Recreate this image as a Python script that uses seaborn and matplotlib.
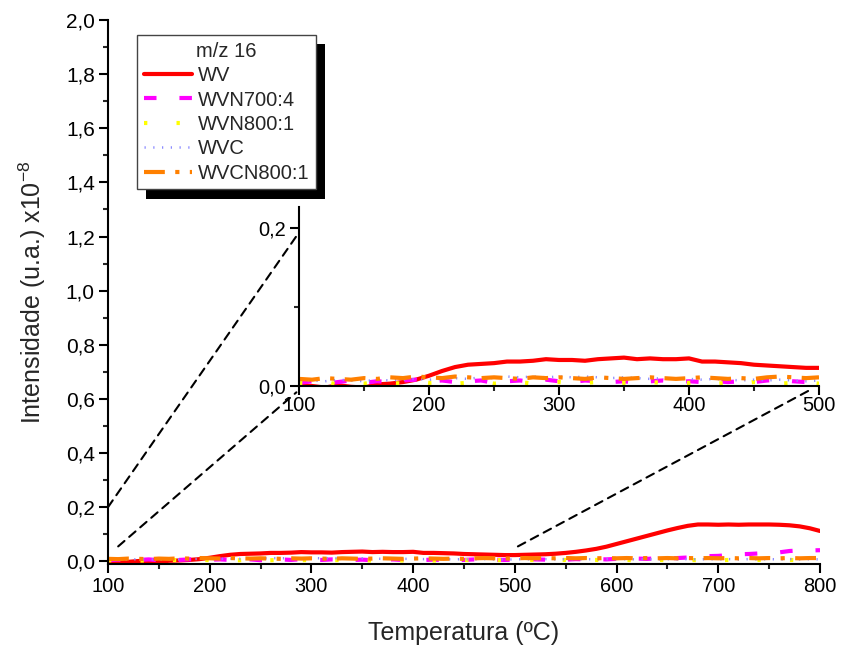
import numpy as np
import pandas as pd
import seaborn as sns
import matplotlib
matplotlib.use("Agg")
import matplotlib.pyplot as plt
from matplotlib.ticker import MultipleLocator, FuncFormatter
from matplotlib.patches import ConnectionPatch
import matplotlib.patheffects as pe

# ---------------- data ----------------
temperature = list(range(100, 801, 10))

wv = [0.001, 0.000, -0.002, 0.001, -0.001, -0.002, 0.002, 0.003, 0.005, 0.008,
      0.013, 0.019, 0.024, 0.027, 0.028, 0.029, 0.031, 0.031, 0.032, 0.034,
      0.033, 0.033, 0.032, 0.034, 0.035, 0.036, 0.034, 0.035, 0.034, 0.034,
      0.035, 0.031, 0.031, 0.030, 0.029, 0.027, 0.026, 0.025, 0.024, 0.023,
      0.023, 0.024, 0.025, 0.026, 0.028, 0.031, 0.035, 0.040, 0.046, 0.054,
      0.064, 0.074, 0.084, 0.094, 0.104, 0.114, 0.123, 0.131, 0.136, 0.136,
      0.135, 0.136, 0.135, 0.136, 0.136, 0.136, 0.135, 0.133, 0.129, 0.122,
      0.112]

wvn700_4 = [0.004, 0.006, 0.003, 0.005, 0.007, 0.004, 0.006, 0.005, 0.007, 0.008,
            0.006, 0.007, 0.005, 0.006, 0.007, 0.004, 0.006, 0.007, 0.005, 0.008,
            0.006, 0.005, 0.007, 0.006, 0.005, 0.006, 0.004, 0.006, 0.007, 0.005,
            0.006, 0.005, 0.006, 0.005, 0.006, 0.005, 0.007, 0.008, 0.006, 0.005,
            0.006, 0.006, 0.007, 0.006, 0.007, 0.006, 0.008, 0.007, 0.008, 0.007,
            0.009, 0.008, 0.010, 0.009, 0.011, 0.010, 0.012, 0.014, 0.017, 0.019,
            0.020, 0.023, 0.026, 0.027, 0.029, 0.030, 0.033, 0.038, 0.040, 0.040,
            0.041]

wvn800_1 = [0.004, 0.003, 0.005, 0.002, 0.004, 0.003, 0.005, 0.004, 0.003, 0.006,
            0.004, 0.005, 0.003, 0.004, 0.006, 0.003, 0.004, 0.005, 0.003, 0.004,
            0.005, 0.003, 0.004, 0.005, 0.003, 0.004, 0.003, 0.005, 0.004, 0.003,
            0.004, 0.005, 0.003, 0.004, 0.003, 0.005, 0.004, 0.003, 0.004, 0.005,
            0.003, 0.004, 0.005, 0.003, 0.004, 0.005, 0.003, 0.004, 0.005, 0.003,
            0.004, 0.005, 0.003, 0.004, 0.005, 0.004, 0.003, 0.005, 0.004, 0.003,
            0.004, 0.005, 0.003, 0.004, 0.005, 0.004, 0.003, 0.005, 0.004, 0.005,
            0.004]

wvc = [0.006, 0.007, 0.006, 0.008, 0.007, 0.006, 0.008, 0.007, 0.008, 0.009,
       0.008, 0.009, 0.010, 0.009, 0.011, 0.010, 0.012, 0.011, 0.012, 0.011,
       0.012, 0.011, 0.012, 0.011, 0.010, 0.011, 0.010, 0.009, 0.010, 0.009,
       0.009, 0.008, 0.009, 0.008, 0.007, 0.008, 0.007, 0.008, 0.007, 0.006,
       0.007, 0.008, 0.007, 0.008, 0.007, 0.008, 0.007, 0.008, 0.007, 0.008,
       0.007, 0.008, 0.007, 0.008, 0.007, 0.008, 0.007, 0.008, 0.007, 0.008,
       0.007, 0.008, 0.007, 0.008, 0.007, 0.008, 0.007, 0.008, 0.007, 0.008,
       0.007]

wvcn800_1 = [0.009, 0.008, 0.010, 0.009, 0.008, 0.010, 0.009, 0.011, 0.010, 0.012,
             0.011, 0.010, 0.012, 0.011, 0.010, 0.011, 0.010, 0.009, 0.011, 0.010,
             0.011, 0.010, 0.009, 0.011, 0.010, 0.009, 0.010, 0.011, 0.010, 0.009,
             0.010, 0.011, 0.010, 0.009, 0.010, 0.009, 0.011, 0.012, 0.011, 0.010,
             0.011, 0.012, 0.011, 0.012, 0.011, 0.012, 0.011, 0.012, 0.011, 0.012,
             0.011, 0.012, 0.011, 0.012, 0.011, 0.012, 0.011, 0.012, 0.011, 0.012,
             0.011, 0.012, 0.011, 0.012, 0.011, 0.012, 0.011, 0.012, 0.011, 0.012,
             0.012]

series_names = ["WV", "WVN700:4", "WVN800:1", "WVC", "WVCN800:1"]
series_values = [wv, wvn700_4, wvn800_1, wvc, wvcn800_1]
legend_title = "m/z 16"
x_ticks = [100, 200, 300, 400, 500, 600, 700, 800]
y_ticks = [0.0, 0.2, 0.4, 0.6, 0.8, 1.0, 1.2, 1.4, 1.6, 1.8, 2.0]
inset_x_ticks = [100, 200, 300, 400, 500]
inset_y_ticks = [0.0, 0.2]

# ---------------- style ----------------
colors = ["#ff0000", "#ff00ff", "#ffff00", "#8c8cff", "#ff8000"]
styles = ["-", (0, (3, 5.5)), (0, (0.8, 7)), (0, (0.5, 3)), (0, (5, 2.5, 1, 2.5))]
widths = [3.0, 3.0, 3.0, 1.8, 3.0]

sns.set_style("ticks")
plt.rcParams["font.family"] = ["Liberation Sans", "DejaVu Sans"]
plt.rcParams["mathtext.fontset"] = "custom"
plt.rcParams["mathtext.rm"] = "Liberation Sans"
plt.rcParams["mathtext.default"] = "regular"

fig = plt.figure(figsize=(8.41, 6.50), dpi=100)
W, H = 841, 650
ax = fig.add_axes([108 / W, 1 - 564 / H, (820 - 108) / W, (564 - 20) / H])
ins = fig.add_axes([299 / W, 1 - 386 / H, (819 - 299) / W, (386 - 207) / H])

rows = []
for name, vals in zip(series_names, series_values):
    assert len(vals) == len(temperature)
    for t, v in zip(temperature, vals):
        rows.append({"T": t, "I": v, "s": name})
df = pd.DataFrame(rows)

for name, c, ls, lw in zip(series_names, colors, styles, widths):
    d = df[df["s"] == name]
    sns.lineplot(data=d, x="T", y="I", ax=ax, color=c, linestyle=ls, lw=lw,
                 label=name)
    di = d[d["T"] <= 500]
    sns.lineplot(data=di, x="T", y="I", ax=ins, color=c, linestyle=ls, lw=lw,
                 legend=False)

comma = FuncFormatter(lambda v, p: f"{v:.1f}".replace(".", ","))

for a in (ax, ins):
    a.spines["top"].set_visible(False)
    a.spines["right"].set_visible(False)
    for s in ("left", "bottom"):
        a.spines[s].set_linewidth(1.5)
        a.spines[s].set_color("black")
    a.tick_params(which="major", direction="out", length=6.5, width=1.5,
                  labelsize=14.4, colors="black", pad=3)
    a.tick_params(which="minor", direction="out", length=3.5, width=1.5)
    a.set_xlabel("")
    a.set_ylabel("")

ax.set_xlim(100, 800)
ax.set_ylim(-0.01, 2.0)
ax.set_xticks(x_ticks)
ax.set_yticks(y_ticks)
ax.xaxis.set_minor_locator(MultipleLocator(50))
ax.yaxis.set_minor_locator(MultipleLocator(0.1))
ax.yaxis.set_major_formatter(comma)
ax.tick_params(axis="y", which="major", labelsize=15)
ax.set_xlabel("Temperatura (ºC)", fontsize=18, labelpad=18)
ax.set_ylabel("Intensidade (u.a.) x10$^{-8}$", fontsize=18, labelpad=13)

ins.set_facecolor("none")
ins.set_xlim(100, 500)
ins.set_ylim(0, 0.227)
ins.set_xticks(inset_x_ticks)
ins.set_yticks(inset_y_ticks)
ins.xaxis.set_minor_locator(MultipleLocator(50))
ins.yaxis.set_minor_locator(MultipleLocator(0.1))
ins.yaxis.set_major_formatter(comma)
ins.tick_params(axis="x", which="major", pad=1)

# zoom connectors
conns = [((100, 0.2), (98, 0.19)),
         ((110, 0.055), (98, -0.008)),
         ((503, 0.055), (492, -0.006))]
for pa, pb in conns:
    cp = ConnectionPatch(xyA=pa, coordsA=ax.transData, xyB=pb, coordsB=ins.transData,
                         linestyle=(0, (4, 3)), color="black", lw=1.5, zorder=5)
    fig.add_artist(cp)

leg = ax.legend(title=legend_title, loc="upper left",
                bbox_to_anchor=(137 / W, 1 - 35 / H), bbox_transform=fig.transFigure,
                borderaxespad=0, fontsize=14.5, title_fontsize=14.5,
                handlelength=2.4, handletextpad=0.3, labelspacing=0.27,
                borderpad=0.33, fancybox=False, frameon=True)
frame = leg.get_frame()
frame.set_edgecolor("#444444")
frame.set_linewidth(1.0)
frame.set_facecolor("white")
frame.set_alpha(1)
frame.set_path_effects([pe.SimplePatchShadow(offset=(6.5, -6.5), shadow_rgbFace="black",
                                             alpha=1.0), pe.Normal()])

fig.savefig("out.png", dpi=100)
